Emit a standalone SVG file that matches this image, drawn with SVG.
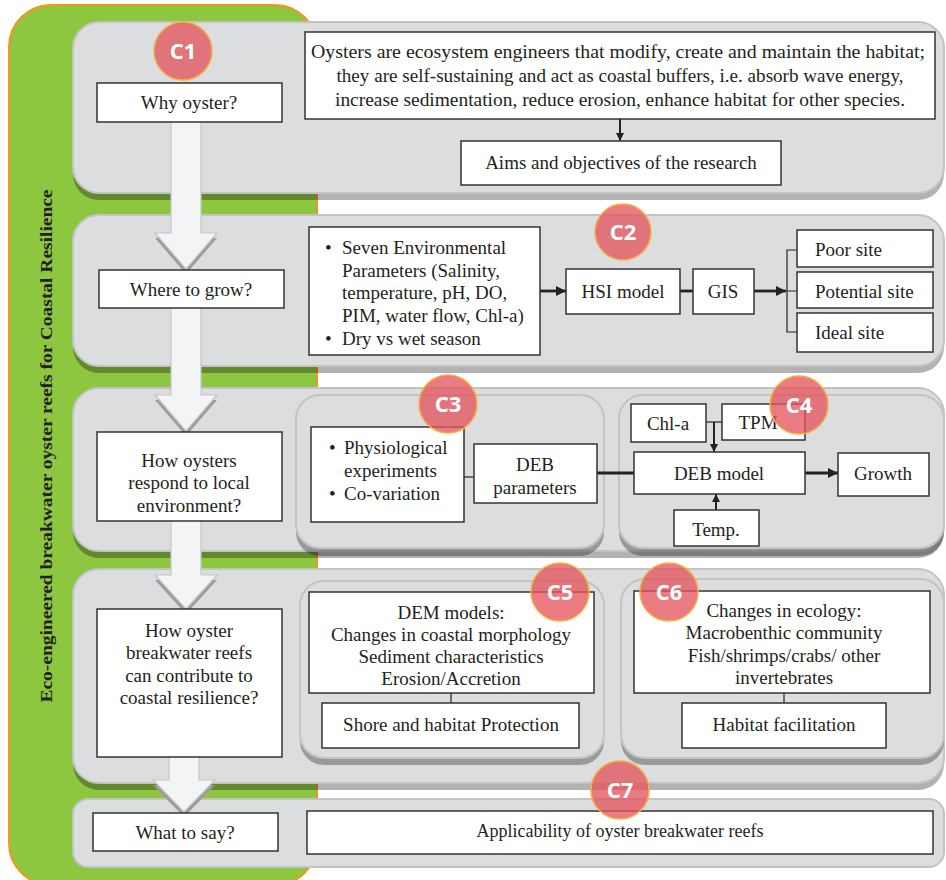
<svg xmlns="http://www.w3.org/2000/svg" width="946" height="880" viewBox="0 0 946 880">
<style>
.panel{fill:#dcdddf;stroke:#c2c3c5;stroke-width:2}
.shadow{fill:#000;fill-opacity:0.3}
.box{fill:#fff;stroke:#333;stroke-width:1.5}
.t{font-family:"Liberation Serif","Times New Roman",serif;font-size:19px;fill:#231f20}
.tm{text-anchor:middle}
.badge circle{fill:#e3565d;fill-opacity:0.78;stroke:#f5b041;stroke-width:1.5}
.badge text{font-family:"Open Sans","DejaVu Sans",sans-serif;font-weight:bold;font-size:22px;fill:#fff;text-anchor:middle}
.big{fill:#f3f4f6;stroke:#c4c5c8;stroke-width:1.2}
.bigsh{fill:#9c9c9c}
.thin{stroke:#222;stroke-width:1.2;fill:none}
.thick{stroke:#222;stroke-width:2.8;fill:none}
.med{stroke:#222;stroke-width:2;fill:none}
</style>
<defs>
<marker id="ahs" viewBox="0 0 10 10" refX="10" refY="5" markerWidth="8" markerHeight="8" markerUnits="userSpaceOnUse" orient="auto"><path d="M0,0 L10,5 L0,10 Z" fill="#222"/></marker>
<marker id="ahl" viewBox="0 0 10 10" refX="10" refY="5" markerWidth="11" markerHeight="10" markerUnits="userSpaceOnUse" orient="auto"><path d="M0,0 L10,5 L0,10 Z" fill="#222"/></marker>
</defs>
<rect width="946" height="880" fill="#fff"/>

<g id="background">
<rect x="9" y="5" width="308" height="880" rx="42" fill="#8dc63f" stroke="#f7941d" stroke-width="2"/>
<text transform="translate(52,446) rotate(-90)" text-anchor="middle" textLength="513" lengthAdjust="spacingAndGlyphs" font-family="'Liberation Serif','Times New Roman',serif" font-weight="bold" font-size="17" fill="#231f20">Eco-engineered breakwater oyster reefs for Coastal Resilience</text>
</g>

<g id="panels">
<rect class="shadow" x="73" y="28" width="871" height="172" rx="26"/>
<rect class="panel" x="73" y="22" width="871" height="171" rx="26"/>
<rect class="shadow" x="73" y="222" width="871" height="151" rx="26"/>
<rect class="panel" x="73" y="215" width="871" height="151" rx="26"/>
<rect class="shadow" x="73" y="395" width="871" height="163" rx="26"/>
<rect class="panel" x="73" y="388" width="871" height="163" rx="26"/>
<rect class="shadow" x="73" y="576" width="871" height="214" rx="26"/>
<rect class="panel" x="73" y="569" width="871" height="214" rx="26"/>
<rect class="panel" x="73" y="799" width="871" height="68" rx="15"/>
<rect class="shadow" x="296" y="401" width="308" height="155" rx="24"/>
<rect class="panel" x="296" y="395" width="308" height="153" rx="24"/>
<rect class="shadow" x="619" y="401" width="325" height="155" rx="24"/>
<rect class="panel" x="619" y="395" width="325" height="153" rx="24"/>
<rect class="shadow" x="300" y="587" width="304" height="178" rx="24"/>
<rect class="panel" x="300" y="581" width="304" height="177" rx="24"/>
<rect class="shadow" x="621" y="585" width="323" height="180" rx="24"/>
<rect class="panel" x="621" y="579" width="323" height="179" rx="24"/>
</g>

<g id="flow-arrows">
<path class="bigsh" d="M155,238 L217,238 L186,274 Z"/>
<path class="big" d="M171,118 L201,118 L201,233 L217,233 L186,269 L155,233 L171,233 Z"/>
<path class="bigsh" d="M155,400 L217,400 L186,436 Z"/>
<path class="big" d="M171,305 L201,305 L201,395 L217,395 L186,431 L155,395 L171,395 Z"/>
<path class="bigsh" d="M155,580 L217,580 L186,614 Z"/>
<path class="big" d="M171,518 L201,518 L201,575 L217,575 L186,609 L155,575 L171,575 Z"/>
<path class="bigsh" d="M153,785 L215,785 L184,817 Z"/>
<path class="big" d="M169,754 L199,754 L199,780 L215,780 L184,812 L153,780 L169,780 Z"/>
</g>

<g id="connectors">
<line class="med" x1="620" y1="119" x2="620" y2="141" marker-end="url(#ahs)"/>
<line class="thick" x1="540" y1="291" x2="566" y2="291" marker-end="url(#ahl)"/>
<line class="thick" x1="680" y1="291" x2="693" y2="291"/>
<line class="thick" x1="754" y1="291" x2="786" y2="291" marker-end="url(#ahl)"/>
<path class="thin" d="M797,250 L787,250 L787,332 L797,332 M787,291 L797,291"/>
<line class="thin" x1="464" y1="477" x2="474" y2="477"/>
<line class="thick" x1="597" y1="473" x2="634" y2="473"/>
<line class="thin" x1="706" y1="422" x2="722" y2="422"/>
<line class="med" x1="714" y1="422" x2="714" y2="452" marker-end="url(#ahs)"/>
<line class="thick" x1="805" y1="473" x2="838" y2="473" marker-end="url(#ahl)"/>
<line class="med" x1="716" y1="510" x2="716" y2="494" marker-end="url(#ahs)"/>
<line class="thin" x1="451" y1="693" x2="451" y2="703"/>
<line class="thin" x1="784" y1="693" x2="784" y2="703"/>
</g>

<g id="q1"><rect class="box" x="97" y="83" width="185" height="39"/><text class="t tm" x="189" y="109">Why oyster?</text></g>
<g id="q2"><rect class="box" x="99" y="270" width="185" height="38"/><text class="t tm" x="191" y="296">Where to grow?</text></g>
<g id="q3"><rect class="box" x="97" y="432" width="185" height="89"/>
<text class="t tm" x="189" y="467">How oysters</text><text class="t tm" x="189" y="489">respond to local</text><text class="t tm" x="189" y="512">environment?</text></g>
<g id="q4"><rect class="box" x="97" y="609" width="185" height="148"/>
<text class="t tm" x="189" y="637">How oyster</text><text class="t tm" x="189" y="659">breakwater reefs</text><text class="t tm" x="189" y="682">can contribute to</text><text class="t tm" x="189" y="704">coastal resilience?</text></g>
<g id="q5"><rect class="box" x="93" y="813" width="185" height="38"/><text class="t tm" x="185" y="839">What to say?</text></g>

<g id="oyster-text"><rect class="box" x="305" y="32" width="630" height="87"/>
<text class="t tm" x="618" y="58" textLength="614" lengthAdjust="spacingAndGlyphs">Oysters are ecosystem engineers that modify, create and maintain the habitat;</text>
<text class="t tm" x="620" y="82" textLength="567" lengthAdjust="spacingAndGlyphs">they are self-sustaining and act as coastal buffers, i.e. absorb wave energy,</text>
<text class="t tm" x="620" y="106" textLength="570" lengthAdjust="spacingAndGlyphs">increase sedimentation, reduce erosion, enhance habitat for other species.</text></g>
<g id="aims"><rect class="box" x="461" y="141" width="320" height="44"/><text class="t tm" x="621" y="169">Aims and objectives of the research</text></g>

<g id="env-params"><rect class="box" x="309" y="227" width="231" height="128"/>
<text class="t" x="325" y="254">•</text><text class="t" x="342" y="254">Seven Environmental</text>
<text class="t" x="342" y="277">Parameters (Salinity,</text>
<text class="t" x="342" y="299">temperature, pH, DO,</text>
<text class="t" x="342" y="322">PIM, water flow, Chl-a)</text>
<text class="t" x="325" y="345">•</text><text class="t" x="342" y="345">Dry vs wet season</text></g>
<g id="hsi"><rect class="box" x="566" y="269" width="114" height="45"/><text class="t tm" x="623" y="298">HSI model</text></g>
<g id="gis"><rect class="box" x="693" y="269" width="61" height="45"/><text class="t tm" x="723" y="298">GIS</text></g>
<g id="poor"><rect class="box" x="797" y="230" width="136" height="37"/><text class="t" x="815" y="256">Poor site</text></g>
<g id="potential"><rect class="box" x="797" y="272" width="136" height="36"/><text class="t" x="815" y="298">Potential site</text></g>
<g id="ideal"><rect class="box" x="797" y="313" width="136" height="39"/><text class="t" x="815" y="339">Ideal site</text></g>

<g id="physio"><rect class="box" x="311" y="427" width="153" height="95"/>
<text class="t" x="329" y="454">•</text><text class="t" x="344" y="454">Physiological</text>
<text class="t" x="344" y="477">experiments</text>
<text class="t" x="329" y="500">•</text><text class="t" x="344" y="500">Co-variation</text></g>
<g id="deb-params"><rect class="box" x="474" y="444" width="123" height="59"/>
<text class="t tm" x="535" y="471">DEB</text><text class="t tm" x="535" y="494">parameters</text></g>
<g id="chla"><rect class="box" x="631" y="404" width="75" height="38"/><text class="t tm" x="668" y="430">Chl-a</text></g>
<g id="tpm"><rect class="box" x="722" y="404" width="83" height="36"/><text class="t tm" x="758" y="429">TPM</text></g>
<g id="deb-model"><rect class="box" x="634" y="452" width="171" height="42"/><text class="t tm" x="719" y="480">DEB model</text></g>
<g id="growth"><rect class="box" x="838" y="453" width="91" height="43"/><text class="t tm" x="883" y="480">Growth</text></g>
<g id="temp"><rect class="box" x="674" y="510" width="85" height="36"/><text class="t tm" x="716" y="536">Temp.</text></g>

<g id="dem"><rect class="box" x="309" y="592" width="285" height="101"/>
<text class="t tm" x="451" y="619">DEM models:</text>
<text class="t tm" x="451" y="641">Changes in coastal morphology</text>
<text class="t tm" x="451" y="663">Sediment characteristics</text>
<text class="t tm" x="451" y="685">Erosion/Accretion</text></g>
<g id="shore"><rect class="box" x="322" y="703" width="257" height="45"/><text class="t tm" x="451" y="731">Shore and habitat Protection</text></g>
<g id="ecology"><rect class="box" x="634" y="591" width="296" height="102"/>
<text class="t tm" x="784" y="617">Changes in ecology:</text>
<text class="t tm" x="784" y="639">Macrobenthic community</text>
<text class="t tm" x="784" y="662">Fish/shrimps/crabs/ other</text>
<text class="t tm" x="784" y="684">invertebrates</text></g>
<g id="habitat"><rect class="box" x="682" y="703" width="204" height="45"/><text class="t tm" x="784" y="731">Habitat facilitation</text></g>

<g id="applicability"><rect class="box" x="307" y="811" width="626" height="43"/><text class="t tm" x="620" y="837" style="font-size:18px">Applicability of oyster breakwater reefs</text></g>

<g id="badges">
<g class="badge" id="c1"><circle cx="183" cy="51" r="29"/><text x="183" y="59">C1</text></g>
<g class="badge" id="c2"><circle cx="623" cy="232" r="28"/><text x="623" y="240">C2</text></g>
<g class="badge" id="c3"><circle cx="448" cy="404" r="29"/><text x="448" y="412">C3</text></g>
<g class="badge" id="c4"><circle cx="799" cy="405" r="29"/><text x="799" y="413">C4</text></g>
<g class="badge" id="c5"><circle cx="560" cy="592" r="29"/><text x="560" y="600">C5</text></g>
<g class="badge" id="c6"><circle cx="669" cy="592" r="29"/><text x="669" y="600">C6</text></g>
<g class="badge" id="c7"><circle cx="620" cy="790" r="29"/><text x="620" y="798">C7</text></g>
</g>
</svg>
